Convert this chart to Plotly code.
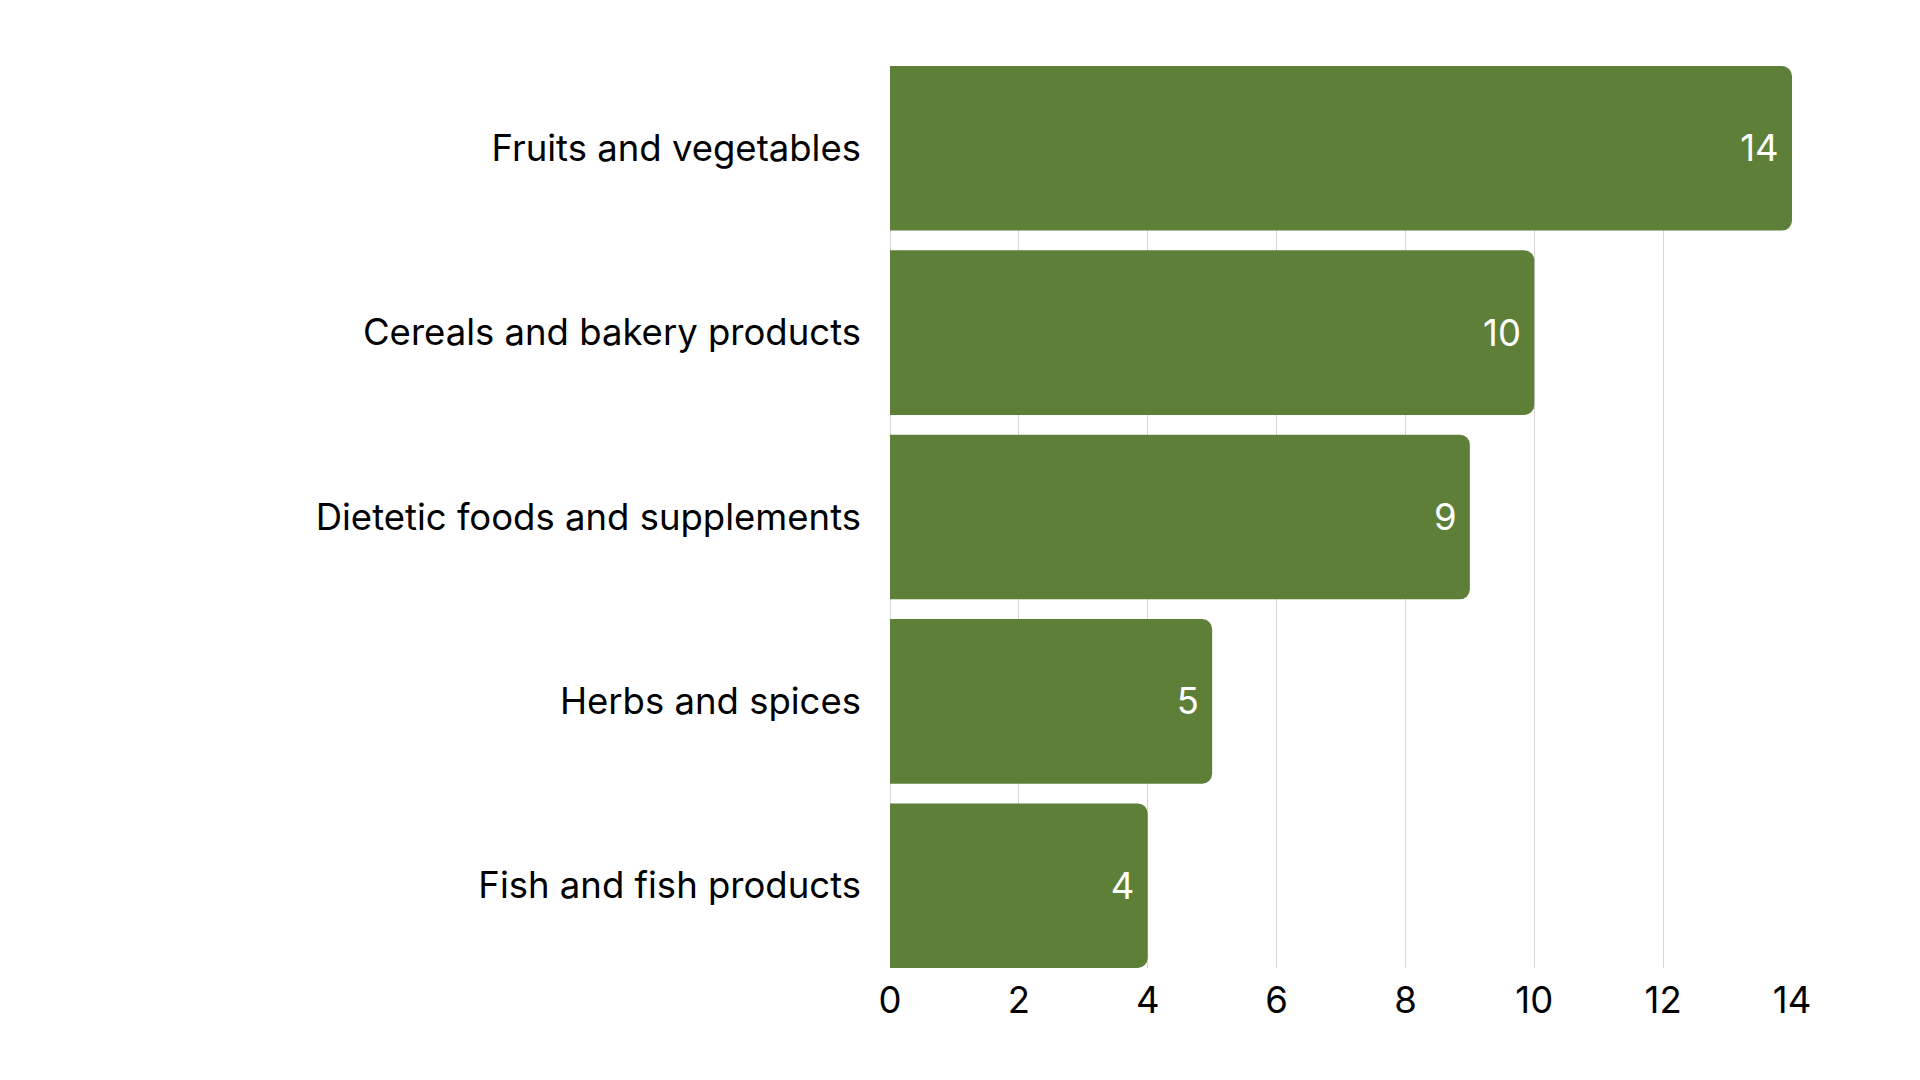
import plotly.graph_objects as go

categories = [
    'Fruits and vegetables',
    'Cereals and bakery products',
    'Dietetic foods and supplements',
    'Herbs and spices',
    'Fish and fish products',
]
counts = [14, 10, 9, 5, 4]
x_ticks = [0, 2, 4, 6, 8, 10, 12, 14]

bar_color = '#5d7f38'
grid_color = '#d4d4d4'
bargap = 0.107

fig = go.Figure()
fig.add_trace(go.Bar(
    x=counts,
    y=categories,
    orientation='h',
    marker=dict(color=bar_color, line_width=0, cornerradius=10),
    text=counts,
    texttemplate='%{x}\u200a',
    textposition='inside',
    insidetextanchor='end',
    textfont=dict(color='white', size=36.5, family='Inter'),
    hoverinfo='skip',
))

fig.update_layout(
    width=1920,
    height=1080,
    paper_bgcolor='white',
    plot_bgcolor='white',
    margin=dict(l=882, r=136, t=58, b=120),
    bargap=bargap,
    showlegend=False,
    font=dict(family='Inter', size=36.5, color='black'),
    xaxis=dict(
        range=[0, 14],
        tickvals=x_ticks,
        showgrid=True,
        gridcolor=grid_color,
        gridwidth=1,
        zeroline=True,
        zerolinecolor=grid_color,
        zerolinewidth=1,
        showline=False,
        ticklabelstandoff=7,
        tickfont=dict(size=36.5, color='black'),
    ),
    yaxis=dict(
        categoryorder='array',
        categoryarray=categories[::-1],
        range=[-0.5 + bargap / 2, len(categories) - 0.5 - bargap / 2],
        showgrid=False,
        zeroline=False,
        showline=False,
        ticklabelstandoff=28,
        tickfont=dict(size=36.5, color='black'),
    ),
)

fig.write_html('out.html')
